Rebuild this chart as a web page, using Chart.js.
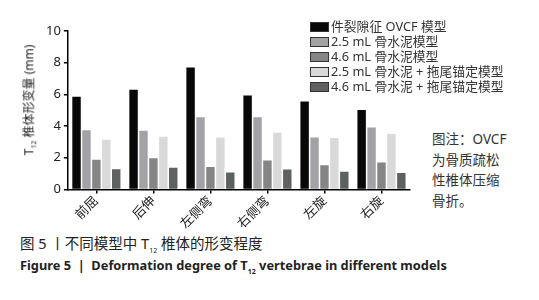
<!DOCTYPE html>
<html>
<head>
<meta charset="utf-8">
<script src="https://cdn.jsdelivr.net/npm/chart.js@4/dist/chart.umd.min.js"></script>
<style>
  body { margin: 0; background: #fff; font-family: "Noto Sans", "Noto Sans CJK SC", sans-serif; }
  #wrap { position: relative; width: 539px; height: 300px; overflow: hidden; }
  #box { position: absolute; left: 0; top: 0; width: 420px; height: 232px; }
  #ytitle { position: absolute; left: 29px; top: 100px; transform: translate(-50%, -50%) rotate(-90deg);
            white-space: nowrap; font-size: 12px; color: #222; }
  #ytitle sub { font-size: 7px; }
  #legend { position: absolute; left: 310px; top: 19px; font-size: 12.8px; color: #333; line-height: 15px; }
  .row { display: flex; align-items: center; height: 15px; white-space: nowrap; }
  .sw { width: 17px; height: 8px; border: 1.2px solid #333; margin-right: 2px; flex: none; }
  #note { position: absolute; left: 432px; top: 129px; font-size: 13.5px; line-height: 20.5px; color: #333; }
  #cap1 { position: absolute; left: 20px; top: 232px; font-size: 14.5px; color: #222; }
  #cap1 sub, #cap2 sub { font-size: 7px; }
  #cap2 { position: absolute; left: 20px; top: 256px; font-size: 12.8px; font-weight: bold; color: #222; }
</style>
</head>
<body>
<div id="wrap">
  <div id="box"><canvas id="myChart"></canvas></div>
  <div id="ytitle">T<sub>12</sub> 椎体形变量 (mm)</div>
  <div id="legend"></div>
  <div id="note">图注：OVCF<br>为骨质疏松<br>性椎体压缩<br>骨折。</div>
  <div id="cap1">图 5 丨不同模型中 T<sub>12</sub> 椎体的形变程度</div>
  <div id="cap2">Figure 5 &nbsp;| &nbsp;Deformation degree of T<sub>12</sub> vertebrae in different models</div>
</div>
<script>
//Categorias del eje x
const categorias = ['前屈', '后伸', '左侧弯', '右侧弯', '左旋', '右旋'];
//Nombres de las series
const series = ['件裂隙征 OVCF 模型', '2.5 mL 骨水泥模型', '4.6 mL 骨水泥模型', '2.5 mL 骨水泥 + 拖尾锚定模型', '4.6 mL 骨水泥 + 拖尾锚定模型'];
//Valores (mm)
const ovcf = [5.85, 6.29, 7.69, 5.93, 5.55, 5.02];
const cemento25 = [3.73, 3.71, 4.56, 4.56, 3.28, 3.90];
const cemento46 = [1.87, 1.97, 1.42, 1.82, 1.52, 1.70];
const anclaje25 = [3.14, 3.33, 3.28, 3.58, 3.24, 3.49];
const anclaje46 = [1.27, 1.36, 1.06, 1.25, 1.12, 1.04];
//Ticks del eje y
const ticksY = [0, 2, 4, 6, 8, 10];

const colores = ['#080808', '#a3a3a7', '#858585', '#d9d9d9', '#5d6160'];
const valores = [ovcf, cemento25, cemento46, anclaje25, anclaje46];

//Leyenda en html
var leyenda = document.getElementById('legend');
series.forEach(function (nombre, i) {
    var fila = document.createElement('div');
    fila.className = 'row';
    fila.innerHTML = '<span class="sw" style="background:' + colores[i] + '"></span>' + nombre;
    leyenda.appendChild(fila);
});

var fuente = { family: '"Noto Sans", "Noto Sans CJK SC", sans-serif', size: 13 };

var myChart = new Chart(document.getElementById('myChart'), {
    type: 'bar',
    data: {
        labels: categorias,
        datasets: series.map(function (nombre, i) {
            return {
                label: nombre,
                data: valores[i],
                backgroundColor: colores[i],
                borderWidth: 0,
                categoryPercentage: 0.87,
                barPercentage: 0.85
            };
        })
    },
    options: {
        responsive: true,
        maintainAspectRatio: false,
        animation: false,
        layout: { padding: { left: 43, right: 10, top: 31, bottom: 0 } },
        plugins: { legend: { display: false }, tooltip: { enabled: false } },
        scales: {
            x: {
                offset: true,
                grid: { display: true, drawOnChartArea: false, drawTicks: true, tickLength: 4, offset: false, color: '#000', lineWidth: 1.5 },
                border: { color: '#000', width: 1.5 },
                ticks: { color: '#222', font: fuente, minRotation: 45, maxRotation: 45, padding: 0 }
            },
            y: {
                min: 0,
                max: 10,
                afterBuildTicks: function (eje) { eje.ticks = ticksY.map(function (v) { return { value: v }; }); },
                grid: { display: true, drawOnChartArea: false, drawTicks: true, tickLength: 4, color: '#000', lineWidth: 1.5 },
                border: { color: '#000', width: 1.5 },
                ticks: { color: '#222', font: fuente, padding: 3 }
            }
        }
    }
});
</script>
</body>
</html>
